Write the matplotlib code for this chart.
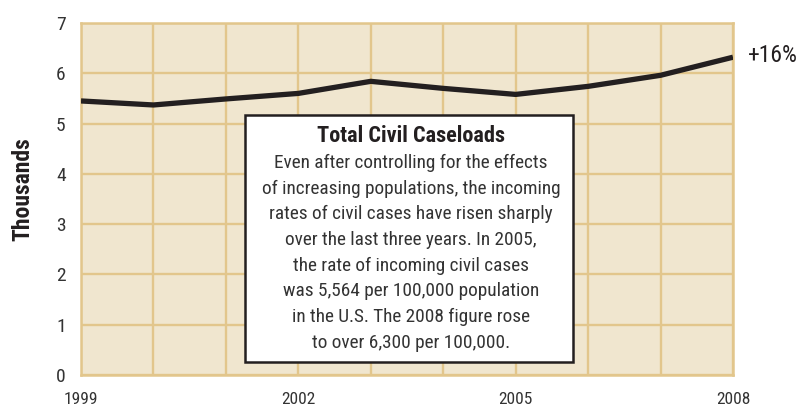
import matplotlib.pyplot as plt
from matplotlib.patches import Rectangle

years = [1999, 2000, 2001, 2002, 2003, 2004, 2005, 2006, 2007, 2008]
caseloads = [5.45, 5.37, 5.49, 5.60, 5.84, 5.70, 5.58, 5.74, 5.96, 6.32]
xtick_years = [1999, 2002, 2005, 2008]
yticks = [0, 1, 2, 3, 4, 5, 6, 7]
box_title = "Total Civil Caseloads"
box_lines = [
    "Even after controlling for the effects",
    "of increasing populations, the incoming",
    "rates of civil cases have risen sharply",
    "over the last three years. In 2005,",
    "the rate of incoming civil cases",
    "was 5,564 per 100,000 population",
    "in the U.S. The 2008 figure rose",
    "to over 6,300 per 100,000.",
]
change_label = "+16%"

plt.rcParams['font.family'] = ['Roboto Condensed', 'DejaVu Sans']

bg = '#f0e6cf'
grid_col = '#e2c68c'
ink = '#231f20'
text_col = '#333333'

fig = plt.figure(figsize=(8.06, 4.08), dpi=100)
ax = fig.add_axes([0.1005, 0.0809, 0.8089, 0.8627])
ax.set_facecolor(bg)
ax.set_xlim(years[0], years[-1])
ax.set_ylim(0, 7)

for yr in years:
    ax.axvline(yr, color=grid_col, lw=1.7, zorder=1)
for v in yticks:
    ax.axhline(v, color=grid_col, lw=1.7, zorder=1)
for s in ax.spines.values():
    s.set_color(grid_col)
    s.set_linewidth(1.8)

ax.plot(years, caseloads, color=ink, lw=3.8, solid_capstyle='butt', zorder=3)

ax.set_xticks(xtick_years)
ax.set_yticks(yticks)
ax.tick_params(length=0, labelcolor=text_col)
ax.tick_params(axis='x', pad=12, labelsize=12.5)
ax.tick_params(axis='y', pad=11, labelsize=14)

fig.text(23 / 806, 1 - 189 / 408, "Thousands", rotation=90, ha='center', va='center',
         fontsize=17, fontweight='bold', color=ink)

ax.text(1.023, caseloads[-1] / 7 + 0.004, change_label, transform=ax.transAxes,
        fontsize=17, fontweight='normal', color=ink, ha='left', va='center')

# annotation box
bx0, by0, bx1, by1 = 0.2515, 0.037, 0.7546, 0.7386
ax.add_patch(Rectangle((bx0, by0), bx1 - bx0, by1 - by0, transform=ax.transAxes,
                       facecolor='white', edgecolor=ink, lw=1.8, zorder=4))
cx = (bx0 + bx1) / 2 + 0.003
ax.text(cx, 1 - (136 - 23) / 352, box_title, transform=ax.transAxes, ha='center',
        va='center', fontsize=16, fontweight='bold', color=ink, zorder=5)
for i, line in enumerate(box_lines):
    ypx = 163 + i * 25.7
    ax.text(cx, 1 - (ypx - 23) / 352, line, transform=ax.transAxes, ha='center',
            va='center', fontsize=13.9, color=text_col, zorder=5)

fig.savefig('out.png', dpi=100)
